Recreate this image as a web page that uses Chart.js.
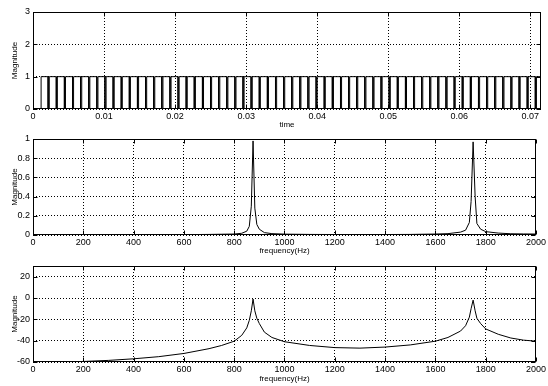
<!DOCTYPE html>
<html>
<head>
<meta charset="utf-8">
<script src="https://cdn.jsdelivr.net/npm/chart.js@4.4.1/dist/chart.umd.min.js"></script>
<style>
  html, body { margin: 0; padding: 0; background: #fff; }
  #wrap { position: relative; width: 548px; height: 386px; }
  canvas { position: absolute; left: 0; }
</style>
</head>
<body>
<div id="wrap">
  <canvas id="timePlot" width="548" height="130" style="top:0px"></canvas>
  <canvas id="linPlot" width="548" height="126" style="top:130px"></canvas>
  <canvas id="dbPlot" width="548" height="128" style="top:256px"></canvas>
</div>
<script>
// pulse train (time domain): rise times of each pulse, and how long it stays high
const riseTimes = [
  0.00114, 0.00229, 0.00343, 0.00457, 0.00571, 0.00686, 0.00800, 0.00914, 0.01029, 0.01143,
  0.01257, 0.01371, 0.01486, 0.01600, 0.01714, 0.01829, 0.01943, 0.02057, 0.02171, 0.02286,
  0.02400, 0.02514, 0.02629, 0.02743, 0.02857, 0.02971, 0.03086, 0.03200, 0.03314, 0.03429,
  0.03543, 0.03657, 0.03771, 0.03886, 0.04000, 0.04114, 0.04229, 0.04343, 0.04457, 0.04571,
  0.04686, 0.04800, 0.04914, 0.05029, 0.05143, 0.05257, 0.05371, 0.05486, 0.05600, 0.05714,
  0.05829, 0.05943, 0.06057, 0.06171, 0.06286, 0.06400, 0.06514, 0.06629, 0.06743, 0.06857,
  0.06971, 0.07086
];
const pulseHigh = 0.00099;

// spectrum
const freqs = [0, 100, 200, 300, 400, 500, 600, 700, 750, 800, 830, 850, 860, 868, 875, 882, 890, 900, 920, 950,
  1000, 1100, 1200, 1300, 1400, 1500, 1600, 1650, 1700, 1720, 1735, 1742, 1750, 1758, 1765, 1780, 1800, 1850,
  1900, 1950, 2000];
const magLinear = [0.002, 0.002, 0.002, 0.002, 0.002, 0.003, 0.004, 0.006, 0.008, 0.01, 0.018, 0.04, 0.09, 0.3,
  0.98, 0.28, 0.11, 0.06, 0.025, 0.014, 0.009, 0.006, 0.005, 0.005, 0.005, 0.006, 0.01, 0.014, 0.03, 0.05, 0.13,
  0.35, 0.97, 0.4, 0.12, 0.06, 0.035, 0.02, 0.013, 0.011, 0.01];
const magDb = [-60, -60, -59.5, -58.5, -57, -55, -52, -47.5, -44.5, -40.5, -35, -28, -21, -12, -1, -12, -19, -24,
  -32, -37, -41, -44.5, -46.5, -47, -46, -44, -40.5, -37, -31, -26, -18, -10, -2, -12, -19, -24, -29, -34, -37.5,
  -39.5, -40.5];

// tick labels
const timeTicks = [0, 0.01, 0.02, 0.03, 0.04, 0.05, 0.06, 0.07];
const timeTickLabels = ['0', '0.01', '0.02', '0.03', '0.04', '0.05', '0.06', '0.07'];
const freqTicks = [0, 200, 400, 600, 800, 1000, 1200, 1400, 1600, 1800, 2000];
const freqTickLabels = ['0', '200', '400', '600', '800', '1000', '1200', '1400', '1600', '1800', '2000'];
const pulseYTicks = [0, 1, 2, 3];
const pulseYLabels = ['0', '1', '2', '3'];
const linYTicks = [0, 0.2, 0.4, 0.6, 0.8, 1];
const linYLabels = ['0', '0.2', '0.4', '0.6', '0.8', '1'];
const dbYTicks = [-60, -40, -20, 0, 20];
const dbYLabels = ['-60', '-40', '-20', '0', '20'];

Chart.defaults.font.family = "'Liberation Sans Narrow', 'Liberation Sans', Arial, sans-serif";
Chart.defaults.font.size = 9;
Chart.defaults.color = '#000';

// matlab style box with inward tick marks
const boxPlugin = {
  id: 'box',
  afterDraw(chart) {
    const { ctx, chartArea: a, scales } = chart;
    const L = Math.round(a.left) + 0.5, R = Math.round(a.right) - 0.5;
    const T = Math.round(a.top) + 0.5, B = Math.round(a.bottom) - 0.5;
    ctx.save();
    ctx.strokeStyle = '#000';
    ctx.lineWidth = 1;
    ctx.setLineDash([]);
    ctx.strokeRect(L, T, R - L, B - T);
    ctx.beginPath();
    scales.x.ticks.forEach(t => {
      const px = Math.round(scales.x.getPixelForValue(t.value)) + 0.5;
      ctx.moveTo(px, B); ctx.lineTo(px, B - 4);
      ctx.moveTo(px, T); ctx.lineTo(px, T + 4);
    });
    scales.y.ticks.forEach(t => {
      const py = Math.round(scales.y.getPixelForValue(t.value)) + 0.5;
      ctx.moveTo(L, py); ctx.lineTo(L + 4, py);
      ctx.moveTo(R, py); ctx.lineTo(R - 4, py);
    });
    ctx.stroke();
    ctx.restore();
  }
};

function makePanel(id, points, x, y, padTop, axisH) {
  new Chart(document.getElementById(id), {
    type: 'line',
    data: {
      datasets: [{
        data: points,
        borderColor: '#000',
        borderWidth: 1,
        pointRadius: 0,
        tension: 0
      }]
    },
    options: {
      responsive: false,
      animation: false,
      layout: { padding: { top: padTop, right: 7, bottom: 0, left: 0 } },
      plugins: { legend: { display: false }, tooltip: { enabled: false } },
      scales: {
        x: {
          type: 'linear',
          min: x.min,
          max: x.max,
          afterBuildTicks: s => { s.ticks = x.ticks.map(v => ({ value: v })); },
          afterFit: s => { s.height = axisH; },
          ticks: { callback: (v, i) => x.labels[i], padding: 2, maxRotation: 0, autoSkip: false },
          grid: { color: '#000', lineWidth: 1, drawTicks: false },
          border: { display: false, dash: [1, 2] },
          title: { display: true, text: x.title, font: { size: 8 }, padding: { top: 0, bottom: 0 } }
        },
        y: {
          min: y.min,
          max: y.max,
          afterBuildTicks: s => { s.ticks = y.ticks.map(v => ({ value: v })); },
          afterFit: s => { s.width = 33; },
          ticks: { callback: (v, i) => y.labels[i], padding: 3, autoSkip: false },
          grid: { color: '#000', lineWidth: 1, drawTicks: false },
          border: { display: false, dash: [1, 2] },
          title: { display: true, text: 'Magnitude', font: { size: 8 }, padding: { top: 10, bottom: 0 } }
        }
      }
    },
    plugins: [boxPlugin]
  });
}

// build the step line of the pulse train from its rise times
const pulsePoints = [{ x: 0, y: 0 }];
riseTimes.forEach(r => {
  pulsePoints.push({ x: r, y: 0 }, { x: r, y: 1 }, { x: r + pulseHigh, y: 1 }, { x: r + pulseHigh, y: 0 });
});

makePanel('timePlot', pulsePoints,
  { min: 0, max: 0.0715, ticks: timeTicks, labels: timeTickLabels, title: 'time' },
  { min: 0, max: 3, ticks: pulseYTicks, labels: pulseYLabels }, 12, 21);

makePanel('linPlot', freqs.map((f, i) => ({ x: f, y: magLinear[i] })),
  { min: 0, max: 2000, ticks: freqTicks, labels: freqTickLabels, title: 'frequency(Hz)' },
  { min: 0, max: 1, ticks: linYTicks, labels: linYLabels }, 9, 21);

makePanel('dbPlot', freqs.map((f, i) => ({ x: f, y: magDb[i] })),
  { min: 0, max: 2000, ticks: freqTicks, labels: freqTickLabels, title: 'frequency(Hz)' },
  { min: -60, max: 30, ticks: dbYTicks, labels: dbYLabels }, 10, 22);
</script>
</body>
</html>
